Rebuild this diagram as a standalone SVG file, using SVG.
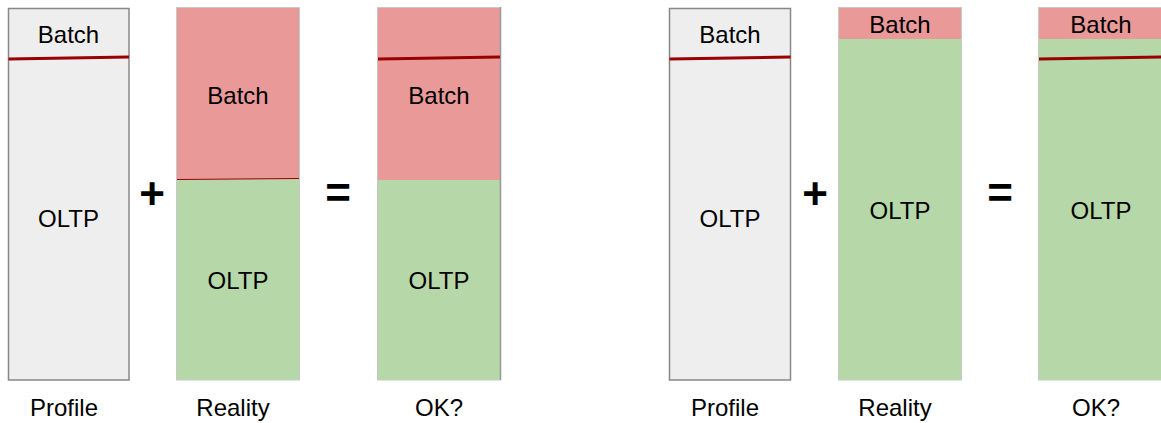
<svg xmlns="http://www.w3.org/2000/svg" width="1161" height="423" viewBox="0 0 1161 423">
  <style>
    .profile { fill: #eeeeee; stroke: #888888; stroke-width: 1.5; }
    .batch { fill: #ea9999; }
    .oltp { fill: #b6d7a8; }
    .edge { fill: none; stroke: #c8c8c8; stroke-width: 1; }
    .edge-dark { fill: none; stroke: #999999; stroke-width: 1.5; }
    .limit { stroke: #990000; stroke-width: 3; fill: none; }
    .seam { stroke: #990000; stroke-width: 1; fill: none; }
    .t { font-family: "Liberation Sans", Arial, sans-serif; font-size: 24px; fill: #000; text-anchor: middle; }
    .op { font-family: "Liberation Sans", Arial, sans-serif; font-size: 44px; font-weight: bold; fill: #000; text-anchor: middle; }
  </style>
  <rect width="1161" height="423" fill="#ffffff"/>

  <!-- left scenario -->
  <g id="profile-left">
    <rect class="profile" x="8.5" y="8.5" width="120.5" height="371.5"/>
    <path class="limit" d="M8.5 59 L129 57"/>
    <text class="t" x="68.5" y="43">Batch</text>
    <text class="t" x="68.5" y="227">OLTP</text>
    <text class="t" x="64" y="416">Profile</text>
  </g>
  <g id="reality-left">
    <rect class="batch" x="177" y="7" width="122" height="172"/>
    <rect class="oltp" x="177" y="179" width="122" height="201"/>
    <rect class="edge" x="176.5" y="7.5" width="123" height="372.5"/>
    <path class="seam" d="M177 179.5 L299 178.5"/>
    <text class="t" x="238" y="104">Batch</text>
    <text class="t" x="238" y="289">OLTP</text>
    <text class="t" x="233" y="416">Reality</text>
  </g>
  <g id="ok-left">
    <rect class="batch" x="378" y="7" width="122" height="173"/>
    <rect class="oltp" x="378" y="180" width="122" height="200"/>
    <rect class="edge" x="377.5" y="7.5" width="123" height="372.5"/>
    <path class="edge-dark" d="M500.5 7 V380"/>
    <path class="limit" d="M378 59 L500 57"/>
    <text class="t" x="439" y="104">Batch</text>
    <text class="t" x="439" y="289">OLTP</text>
    <text class="t" x="439" y="416">OK?</text>
  </g>
  <g id="ops-left">
    <text class="op" x="152" y="209">+</text>
    <text class="op" x="338" y="208">=</text>
  </g>

  <!-- right scenario -->
  <g id="profile-right">
    <rect class="profile" x="669.5" y="8.5" width="121" height="371.5"/>
    <path class="limit" d="M669.5 59 L790.5 57"/>
    <text class="t" x="730" y="43">Batch</text>
    <text class="t" x="730" y="227">OLTP</text>
    <text class="t" x="725" y="416">Profile</text>
  </g>
  <g id="reality-right">
    <rect class="batch" x="839" y="7" width="122" height="32"/>
    <rect class="oltp" x="839" y="39" width="122" height="341"/>
    <rect class="edge" x="838.5" y="7.5" width="123" height="372.5"/>
    <text class="t" x="900" y="33">Batch</text>
    <text class="t" x="900" y="219">OLTP</text>
    <text class="t" x="895" y="416">Reality</text>
  </g>
  <g id="ok-right">
    <rect class="batch" x="1039" y="7" width="122" height="32"/>
    <rect class="oltp" x="1039" y="39" width="122" height="341"/>
    <rect class="edge" x="1038.5" y="7.5" width="123" height="372.5"/>
    <path class="limit" d="M1039 59 L1161 57"/>
    <text class="t" x="1101" y="33">Batch</text>
    <text class="t" x="1101" y="219">OLTP</text>
    <text class="t" x="1096" y="416">OK?</text>
  </g>
  <g id="ops-right">
    <text class="op" x="815" y="209">+</text>
    <text class="op" x="1000" y="208">=</text>
  </g>

  <!-- no connectors in this figure -->
  <g id="connectors"/>
</svg>
